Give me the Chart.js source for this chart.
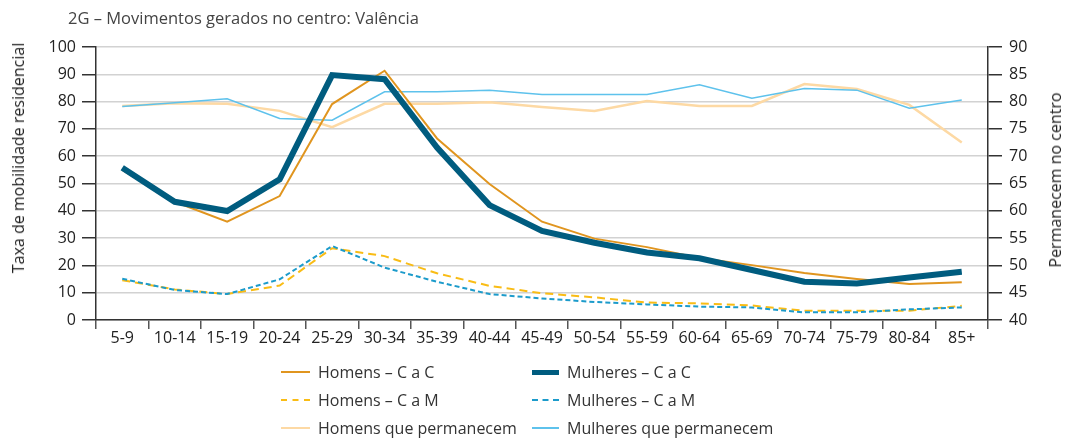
<!DOCTYPE html>
<html>
<head>
<meta charset="utf-8">
<script src="https://cdn.jsdelivr.net/npm/chart.js@4/dist/chart.umd.min.js"></script>
<style>
  body { margin: 0; background: #fff; font-family: "Open Sans", sans-serif; }
  #wrap { position: relative; width: 1067px; height: 443px; }
  #title { position: absolute; left: 68px; top: 6px; font-size: 16.5px; line-height: 24px; color: #444; white-space: nowrap; }
  .axisTitle { position: absolute; font-size: 16px; color: #222; white-space: nowrap; transform: translate(-50%, -50%) rotate(-90deg); }
  #legend { position: absolute; left: 0; top: 0; }
  .lg { position: absolute; font-size: 16px; color: #333; white-space: nowrap; display: flex; align-items: center; transform: translateY(-50%); }
  .sw { display: inline-block; margin-right: 8px; }
</style>
</head>
<body>
<div id="wrap">
  <canvas id="myChart" width="1067" height="443"></canvas>
  <div id="title">2G – Movimentos gerados no centro: Valência</div>
  <div class="axisTitle" style="left:18px; top:158px;">Taxa de mobilidade residencial</div>
  <div class="axisTitle" style="left:1055px; top:180px;">Permanecem no centro</div>
  <div id="legend"></div>
</div>
<script>
const ageGroups = ['5-9', '10-14', '15-19', '20-24', '25-29', '30-34', '35-39', '40-44', '45-49',
    '50-54', '55-59', '60-64', '65-69', '70-74', '75-79', '80-84', '85+'];

const homensCaC = [55, 43.3, 36, 45.4, 79.1, 91.3, 66.5, 49.8, 36, 29.8, 26.7, 22.7, 20.1, 17.2, 15, 13.2, 13.8];
const mulheresCaC = [55.8, 43.3, 39.9, 51.5, 89.7, 88.2, 63.2, 42.1, 32.6, 28.3, 24.7, 22.6, 18.3, 14, 13.4, 15.6, 17.7];
const homensCaM = [14.6, 11.2, 9.5, 12.6, 26.3, 23.4, 17.1, 12.5, 9.8, 8.3, 6.4, 6.1, 5.3, 3.4, 3.4, 3.4, 5.2];
const mulheresCaM = [15.1, 11, 9.5, 14.9, 27.1, 19.2, 14, 9.5, 7.9, 6.6, 5.7, 4.9, 4.6, 2.8, 2.8, 3.9, 4.6];
// right axis (40-90)
const homensPermanecem = [79.2, 79.7, 79.6, 78.3, 75.3, 79.6, 79.6, 79.9, 79, 78.3, 80.1, 79.2, 79.2, 83.2, 82.3, 79.4, 72.5];
const mulheresPermanecem = [79.1, 79.8, 80.5, 76.9, 76.6, 81.8, 81.8, 82.1, 81.3, 81.3, 81.3, 83.1, 80.6, 82.4, 82.1, 78.8, 80.3];

const fontFamily = '"Open Sans", sans-serif';

const seriesStyle = [
    { label: 'Homens – C a C', data: homensCaC, color: '#E0951F', width: 2, dash: [], axis: 'y', order: 1 },
    { label: 'Mulheres – C a C', data: mulheresCaC, color: '#005C7F', width: 6, dash: [], axis: 'y', order: 0 },
    { label: 'Homens – C a M', data: homensCaM, color: '#F9BC15', width: 2, dash: [8, 5], axis: 'y', order: 3 },
    { label: 'Mulheres – C a M', data: mulheresCaM, color: '#1C9BCB', width: 2, dash: [5, 3], axis: 'y', order: 2 },
    { label: 'Homens que permanecem', data: homensPermanecem, color: '#FDD9A4', width: 2.5, dash: [], axis: 'y1', order: 5 },
    { label: 'Mulheres que permanecem', data: mulheresPermanecem, color: '#5EC2EC', width: 1.5, dash: [], axis: 'y1', order: 4 },
];

function getDataSets() {
    return seriesStyle.map(s => ({
        label: s.label,
        data: s.data,
        yAxisID: s.axis,
        borderColor: s.color,
        backgroundColor: s.color,
        borderWidth: s.width,
        borderDash: s.dash,
        pointRadius: 0,
        tension: 0,
        order: s.order,
        borderCapStyle: 'butt',
        borderJoinStyle: 'miter',
    }));
}

// legend is plain html, two columns, filled row by row
function generateLegend() {
    const legend = document.getElementById('legend');
    const cols = [{ sw: 281, swW: 29, text: 318 }, { sw: 532, swW: 27, text: 567 }];
    const rows = [372, 400, 428];
    seriesStyle.forEach((s, i) => {
        const col = cols[i % 2];
        const row = rows[Math.floor(i / 2)];
        const item = document.createElement('div');
        item.className = 'lg';
        item.style.left = col.sw + 'px';
        item.style.top = row + 'px';
        const sw = document.createElement('span');
        sw.className = 'sw';
        sw.style.width = col.swW + 'px';
        sw.style.marginRight = (col.text - col.sw - col.swW) + 'px';
        if (s.dash.length) {
            sw.style.borderTop = s.width + 'px dashed ' + s.color;
        } else {
            sw.style.height = Math.max(2, s.width - 1) + 'px';
            sw.style.backgroundColor = s.color;
        }
        item.appendChild(sw);
        item.appendChild(document.createTextNode(s.label));
        legend.appendChild(item);
    });
}

const ctx = document.getElementById('myChart');
const myChart = new Chart(ctx, {
    type: 'line',
    data: { labels: ageGroups, datasets: getDataSets() },
    options: {
        responsive: false,
        animation: false,
        layout: { padding: { left: 0, right: 0, top: 47, bottom: 0 } },
        plugins: { legend: { display: false }, tooltip: { enabled: false } },
        scales: {
            x: {
                offset: true,
                afterFit: (scale) => { scale.height = 123; },
                grid: { offset: true, drawOnChartArea: false, tickLength: 9, tickColor: '#555', lineWidth: 1.5 },
                border: { color: '#333', width: 1.5 },
                ticks: { color: '#222', padding: 0, maxRotation: 0, font: { family: fontFamily, size: 16 } },
            },
            y: {
                min: 0, max: 100,
                afterFit: (scale) => { scale.width = 96; },
                grid: { color: '#d2d2d2', lineWidth: 1.5, tickLength: 14, tickColor: '#333' },
                border: { color: '#333', width: 1.5 },
                ticks: { stepSize: 10, color: '#222', padding: 6, font: { family: fontFamily, size: 16 } },
            },
            y1: {
                position: 'right',
                min: 40, max: 90,
                afterFit: (scale) => { scale.width = 79; },
                grid: { drawOnChartArea: false, tickLength: 14, tickColor: '#333', lineWidth: 1.5 },
                border: { color: '#333', width: 1.5 },
                ticks: { stepSize: 5, color: '#222', padding: 7, font: { family: fontFamily, size: 16 } },
            },
        },
    },
});
generateLegend();
</script>
</body>
</html>
